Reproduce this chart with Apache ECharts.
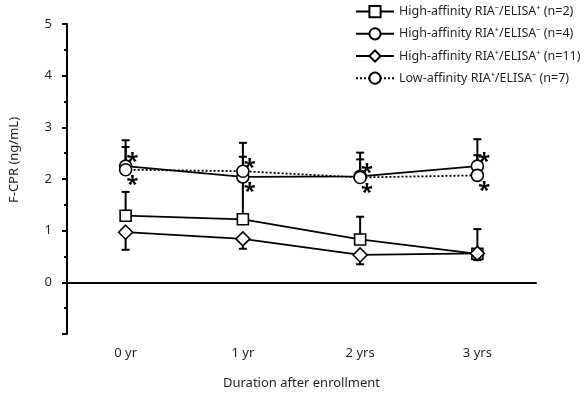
<!DOCTYPE html>
<html>
<head>
<meta charset="utf-8">
<script src="https://cdn.jsdelivr.net/npm/echarts@6/dist/echarts.min.js"></script>
<style>html,body{margin:0;padding:0;background:#fff}#main{width:584px;height:395px}</style>
</head>
<body>
<div id="main"></div>
<script>
// 横轴分类
var categories = ['0 yr', '1 yr', '2 yrs', '3 yrs'];
// 纵轴刻度
var yMin = -1, yMax = 5, yStep = 1;

var nameSquare = 'High-affinity RIA\u207B/ELISA\u207A (n=2)';
var nameCircle = 'High-affinity RIA\u207A/ELISA\u207B (n=4)';
var nameDiamond = 'High-affinity RIA\u207A/ELISA\u207A (n=11)';
var nameLow = 'Low-affinity RIA\u207A/ELISA\u207B (n=7)';

// 均值 + 误差线端点
var squareMean = [1.29, 1.22, 0.83, 0.55];
var squareErr = [1.75, 1.95, 1.27, 1.03];
var circleMean = [2.25, 2.04, 2.05, 2.25];
var circleErr = [2.75, 2.70, 2.51, 2.77];
var diamondMean = [0.97, 0.84, 0.53, 0.56];
var diamondErr = [0.63, 0.65, 0.35, 0.43];
var lowMean = [2.18, 2.15, 2.03, 2.07];
var lowErr = [2.62, 2.43, 2.38, 2.46];

var FONT = 'Noto Sans';
var INK = '#000';
var TXT = '#231f20';

function errorBars(name, means, ends) {
    return {
        type: 'custom',
        name: name + ' err',
        z: 1,
        silent: true,
        encode: { x: 0, y: [1, 2] },
        data: means.map(function (m, i) { return [i, m, ends[i]]; }),
        renderItem: function (params, api) {
            var p0 = api.coord([api.value(0), api.value(1)]);
            var p1 = api.coord([api.value(0), api.value(2)]);
            return {
                type: 'group',
                children: [
                    { type: 'line', shape: { x1: p0[0], y1: p0[1], x2: p1[0], y2: p1[1] }, style: { stroke: INK, lineWidth: 2 } },
                    { type: 'line', shape: { x1: p1[0] - 4, y1: p1[1], x2: p1[0] + 4, y2: p1[1] }, style: { stroke: INK, lineWidth: 2 } }
                ]
            };
        }
    };
}

// 星号标注：两组圆点中位置较高的放在上方
function starData(means, others) {
    return means.map(function (v, i) {
        var upper = v >= others[i];
        return {
            value: v,
            label: {
                show: true,
                formatter: '*',
                position: 'right',
                distance: 0,
                offset: upper ? [-6, -4] : [-6, 15]
            }
        };
    });
}

function lineSeries(name, data, symbol, size, dashed) {
    return {
        type: 'line',
        name: name,
        data: data,
        z: 3,
        symbol: symbol,
        symbolSize: size,
        showSymbol: true,
        lineStyle: { color: INK, width: 1.8, type: dashed ? [2, 2] : 'solid' },
        itemStyle: { color: '#fff', borderColor: INK, borderWidth: 1.6 },
        label: { fontSize: 22, fontWeight: 'bold', color: INK, fontFamily: FONT },
        emphasis: { disabled: true },
        animation: false
    };
}

var dom = document.getElementById('main');
var myChart = echarts.init(dom);

var sqSeries = lineSeries(nameSquare, squareMean, 'rect', 11, false);
sqSeries.markLine = {
    silent: true,
    symbol: ['none', 'none'],
    label: { show: false },
    lineStyle: { type: [2, 2], color: INK, width: 1.6 },
    data: [{ yAxis: 0 }]
};

myChart.setOption({
    animation: false,
    textStyle: { fontFamily: FONT },
    grid: { left: 61, right: 48, top: 24, bottom: 53 },
    legend: {
        data: [nameSquare, nameCircle, nameDiamond, nameLow],
        orient: 'vertical',
        left: 355,
        top: 5,
        padding: 0,
        itemWidth: 38,
        itemHeight: 14,
        itemGap: 9,
        textStyle: { fontSize: 12.5, color: TXT, fontFamily: FONT },
        selectedMode: false
    },
    xAxis: {
        type: 'category',
        data: categories,
        name: 'Duration after enrollment',
        nameLocation: 'middle',
        nameGap: 43,
        nameTextStyle: { fontSize: 13, color: TXT },
        axisLine: { lineStyle: { color: INK, width: 2 } },
        axisTick: { alignWithLabel: true, length: 3, lineStyle: { color: INK, width: 2 } },
        axisLabel: { fontSize: 13, color: TXT, margin: 13 },
        splitLine: { show: false }
    },
    yAxis: {
        type: 'value',
        min: yMin,
        max: yMax,
        interval: yStep,
        name: 'F-CPR (ng/mL)',
        nameLocation: 'middle',
        nameGap: 46,
        nameTextStyle: { fontSize: 13, color: TXT, padding: [0, 0, 0, 38] },
        axisLine: { show: true, lineStyle: { color: INK, width: 2 } },
        axisTick: { show: true, length: 5, lineStyle: { color: INK, width: 2 } },
        minorTick: { show: true, splitNumber: 2, length: 3, lineStyle: { color: INK, width: 2 } },
        splitLine: { show: false },
        axisLabel: {
            fontSize: 13, color: TXT, margin: 15,
            formatter: function (v) { return v < 0 ? '' : v; }
        }
    },
    series: [
        errorBars(nameSquare, squareMean, squareErr),
        errorBars(nameCircle, circleMean, circleErr),
        errorBars(nameDiamond, diamondMean, diamondErr),
        errorBars(nameLow, lowMean, lowErr),
        sqSeries,
        lineSeries(nameCircle, starData(circleMean, lowMean), 'circle', 12, false),
        lineSeries(nameDiamond, diamondMean, 'diamond', 14, false),
        lineSeries(nameLow, starData(lowMean, circleMean), 'circle', 12, true)
    ]
});
window.addEventListener('resize', function () {
    myChart.resize();
});
</script>
</body>
</html>
